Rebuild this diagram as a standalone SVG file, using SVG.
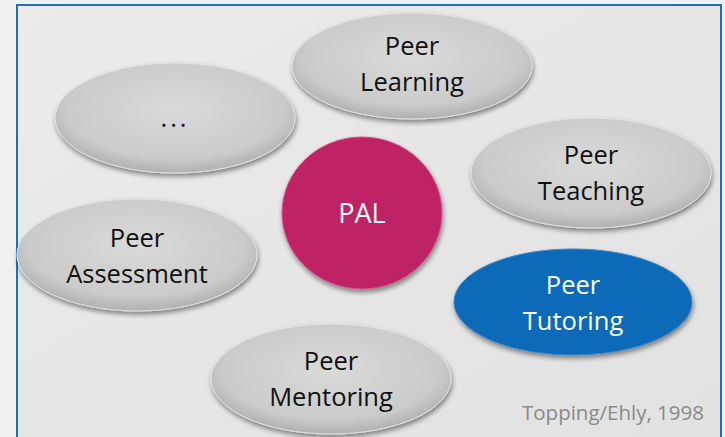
<svg xmlns="http://www.w3.org/2000/svg" width="725" height="437" viewBox="0 0 725 437">
  <defs>
    <radialGradient id="greyFill" cx="50%" cy="42%" r="60%">
      <stop offset="0" stop-color="#dadada"/>
      <stop offset="0.75" stop-color="#cbcbcb"/>
      <stop offset="1" stop-color="#acacac"/>
    </radialGradient>
    <linearGradient id="bgFill" x1="0" y1="0" x2="1" y2="1">
      <stop offset="0" stop-color="#ececec"/>
      <stop offset="0.5" stop-color="#e6e6e6"/>
      <stop offset="1" stop-color="#e2e2e2"/>
    </linearGradient>
    <filter id="shadow" x="-20%" y="-20%" width="140%" height="150%">
      <feGaussianBlur in="SourceAlpha" stdDeviation="2.5"/>
      <feOffset dx="1" dy="3" result="off"/>
      <feComponentTransfer><feFuncA type="linear" slope="0.45"/></feComponentTransfer>
      <feMerge><feMergeNode/><feMergeNode in="SourceGraphic"/></feMerge>
    </filter>
    <style>
      .oval { fill: url(#greyFill); stroke: #e2e2e2; stroke-width: 1; filter: url(#shadow); }
      .label { font-family: "Open Sans", "Liberation Sans", sans-serif; font-size: 25.5px; fill: #111; text-anchor: middle; }
      .light { fill: #ffffff; }
      .credit { font-family: "Open Sans", "Liberation Sans", sans-serif; font-size: 20.5px; fill: #8a8a8a; text-anchor: end; }
    </style>
  </defs>

  <!-- page background -->
  <rect x="0" y="0" width="725" height="437" fill="#eef0f1"/>
  <rect x="17" y="5" width="704" height="440" fill="url(#bgFill)" stroke="#1e6fc4" stroke-width="2"/>

  <g id="connectors"/>

  <g id="node-peer-learning">
    <ellipse class="oval" cx="412" cy="66" rx="120" ry="53"/>
    <text class="label" x="412" y="55">Peer</text>
    <text class="label" x="412" y="91">Learning</text>
  </g>

  <g id="node-more">
    <ellipse class="oval" cx="175" cy="118" rx="120" ry="55"/>
    <text class="label" x="175" y="127" letter-spacing="3">...</text>
  </g>

  <g id="node-peer-teaching">
    <ellipse class="oval" cx="591" cy="173" rx="120" ry="55"/>
    <text class="label" x="591" y="164">Peer</text>
    <text class="label" x="591" y="200">Teaching</text>
  </g>

  <g id="node-pal">
    <ellipse cx="362" cy="213" rx="80" ry="76" fill="#bf2265" stroke="#d05588" stroke-width="1" filter="url(#shadow)"/>
    <text class="label light" x="362" y="223" style="font-size:27px">PAL</text>
  </g>

  <g id="node-peer-assessment">
    <ellipse class="oval" cx="137" cy="255" rx="120" ry="56"/>
    <text class="label" x="137" y="247">Peer</text>
    <text class="label" x="137" y="283">Assessment</text>
  </g>

  <g id="node-peer-tutoring">
    <ellipse cx="573" cy="302" rx="119" ry="53" fill="#0b6bb8" stroke="#3b86c6" stroke-width="1" filter="url(#shadow)"/>
    <text class="label light" x="573" y="294">Peer</text>
    <text class="label light" x="573" y="330">Tutoring</text>
  </g>

  <g id="node-peer-mentoring">
    <ellipse class="oval" cx="331" cy="379" rx="120" ry="55"/>
    <text class="label" x="331" y="370">Peer</text>
    <text class="label" x="331" y="406">Mentoring</text>
  </g>

  <text class="credit" x="704" y="420">Topping/Ehly, 1998</text>
</svg>
